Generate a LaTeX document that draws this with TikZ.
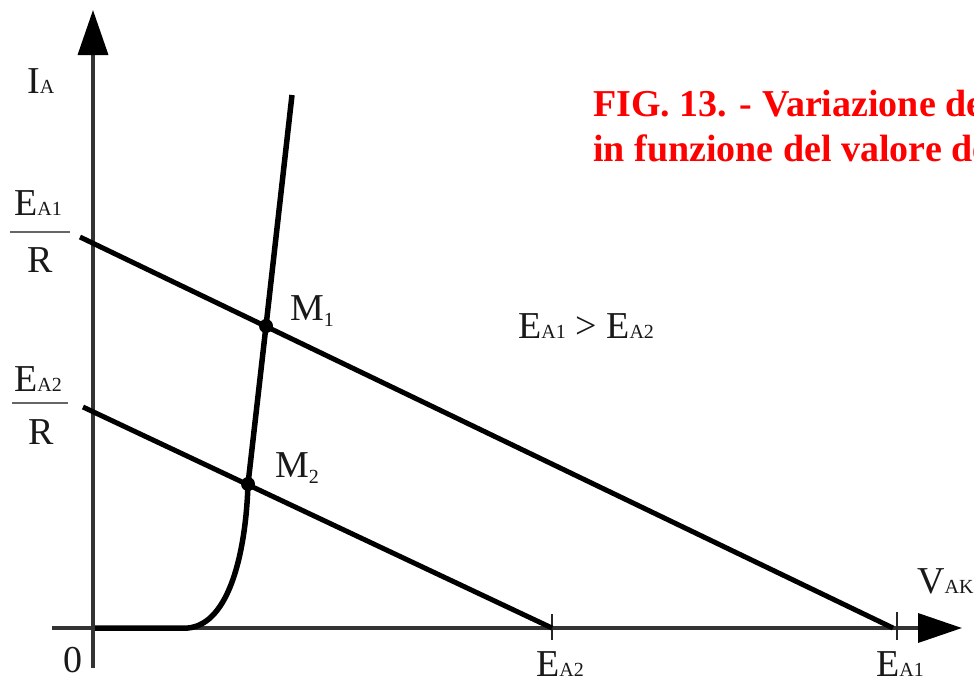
\documentclass[tikz,border=0pt]{standalone}
\usepackage{fontspec}
\setmainfont{Liberation Serif}
\usetikzlibrary{arrows.meta}
\newcommand\lsub[2][0pt]{\raisebox{#1}{\fontsize{20}{20}\selectfont #2}}
\begin{document}
\begin{tikzpicture}[x=1pt,y=-1pt,
  lbl/.style={inner sep=0pt, anchor=base west, text=black!90, font=\fontsize{38}{38}\selectfont},
  axisline/.style={line width=3.5pt, draw=black!80},
  loadline/.style={line width=5pt},
  charcurve/.style={line width=5.5pt, line join=round},
  tickmark/.style={line width=2.5pt, draw=black!85},
  fracbar/.style={line width=2.5pt, draw=black!60},
  dot/.style={circle, fill=black, inner sep=0pt, minimum size=14pt},
  titletext/.style={inner sep=0pt, anchor=base west, text=red, font=\bfseries\fontsize{38}{38}\selectfont}]
\useasboundingbox (0,0) rectangle (974,683);
\fill[white] (0,0) rectangle (974,683);
% axes
\coordinate (O) at (93,628);
\coordinate (ybot) at (93,668);
\coordinate (ytop) at (93,10);
\coordinate (xleft) at (52,628);
\coordinate (xright) at (962,628);
\draw[axisline, -{Triangle[length=45pt,width=30pt,color=black]}] (ybot) -- (ytop);
\draw[axisline, -{Triangle[length=44pt,width=29pt,color=black]}] (xleft) -- (xright);
% ticks
\coordinate (t1a) at (897,612); \coordinate (t1b) at (897,640);
\coordinate (t2a) at (552,614); \coordinate (t2b) at (552,640);
\draw[tickmark] (t1a) -- (t1b);
\draw[tickmark] (t2a) -- (t2b);
% load lines
\coordinate (L1a) at (80,237); \coordinate (L1b) at (893,628);
\coordinate (L2a) at (83,407); \coordinate (L2b) at (552,628);
\draw[loadline] (L1a) -- (L1b);
\draw[loadline] (L2a) -- (L2b);
% characteristic
\coordinate (M1) at (266,326);
\coordinate (M2) at (248,484);
\coordinate (c0) at (95,628);
\coordinate (c1) at (188,628);
\coordinate (ctop) at (292,95);
\draw[charcurve] (c0) -- (c1) .. controls (230,624) and (246,550) .. (M2) -- (M1) -- (ctop);
\node[dot] (M1dot) at (M1) {};
\node[dot] (M2dot) at (M2) {};
% labels
\node[lbl] (IA) at (27,93) {I\lsub{A}};
\node[lbl] (E1top) at (14,215) {E\lsub{A1}};
\coordinate (b1a) at (10,232); \coordinate (b1b) at (70,232);
\draw[fracbar] (b1a) -- (b1b);
\node[lbl] (R1) at (27,272) {R};
\node[lbl] (E2top) at (14,391) {E\lsub{A2}};
\coordinate (b2a) at (12,403); \coordinate (b2b) at (68,403);
\draw[fracbar] (b2a) -- (b2b);
\node[lbl] (R2) at (28,444) {R};
\node[lbl] (M1l) at (290,320) {M\lsub[-6pt]{1}};
\node[lbl] (M2l) at (275,477) {M\lsub[-6pt]{2}};
\node[lbl] (ineq) at (518,338) {E\lsub{A1} > E\lsub{A2}};
\node[lbl] (VAK) at (917,593) {V\lsub{AK}};
\node[lbl] (zero) at (63,672) {0};
\node[lbl] (EA2) at (536,676) {E\lsub{A2}};
\node[lbl] (EA1) at (876,676) {E\lsub{A1}};
% title
\node[titletext] (t1) at (593,116) {FIG. 13. - Variazione de};
\node[titletext] (t2) at (593,161) {in funzione del valore de};
\end{tikzpicture}
\end{document}
